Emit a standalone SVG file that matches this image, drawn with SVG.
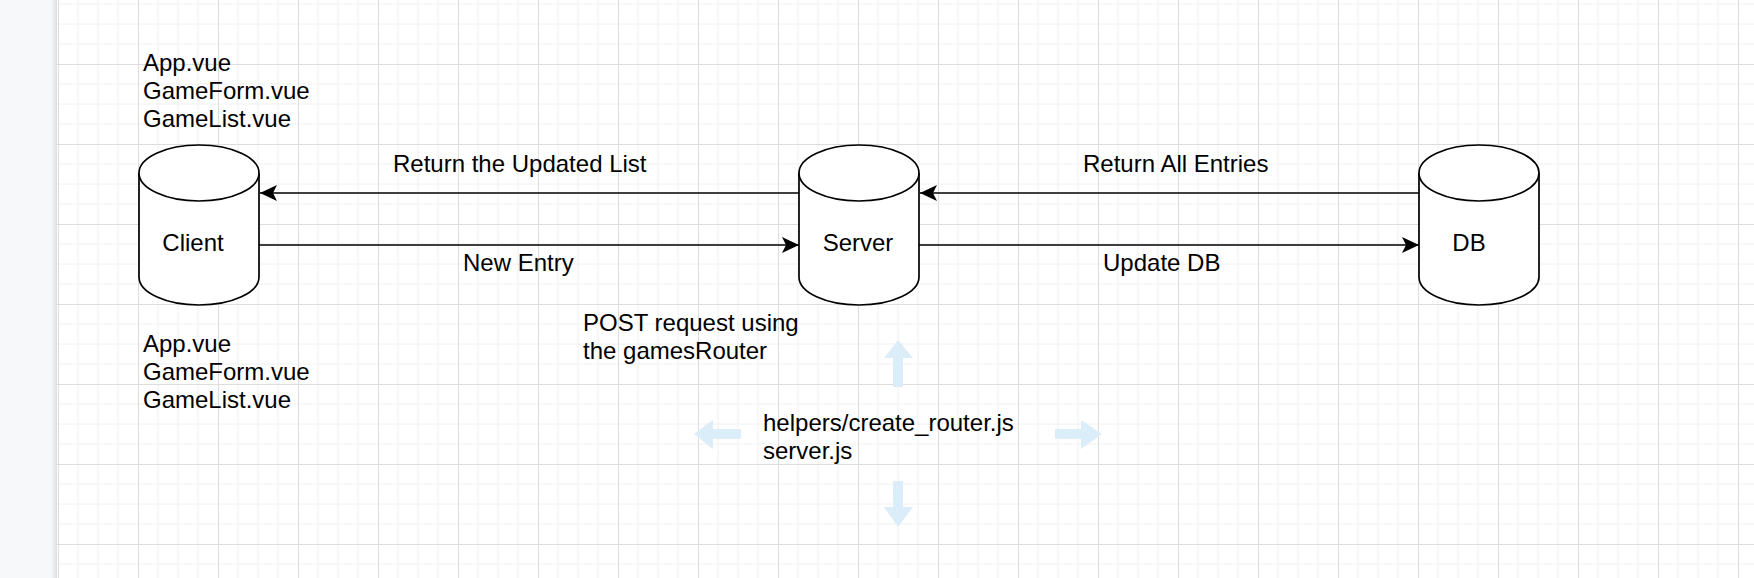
<svg xmlns="http://www.w3.org/2000/svg" width="1754" height="578" viewBox="0 0 1754 578">
  <style>
    .t { font-family: "Liberation Sans", Arial, Helvetica, sans-serif; font-size: 24px; fill: #000; }
    .cyl { fill: #fff; stroke: #000; stroke-width: 1.7; }
    .edge { fill: none; stroke: #000; stroke-width: 1.6; }
    .hint { fill: #dcedfa; }
  </style>
  <defs>
    <pattern id="grid" x="58" y="-16" width="80" height="80" patternUnits="userSpaceOnUse">
      <path d="M20,0 V80 M40,0 V80 M60,0 V80 M0,20 H80 M0,40 H80 M0,60 H80" stroke="#f0f0f0" stroke-width="1" fill="none"/>
      <path d="M0.5,0 V80 M0,0.5 H80" stroke="#dddddd" stroke-width="1" fill="none"/>
    </pattern>
    <linearGradient id="shadow" x1="0" y1="0" x2="1" y2="0">
      <stop offset="0" stop-color="#f7f8fa"/>
      <stop offset="1" stop-color="#dcdde0"/>
    </linearGradient>
    <marker id="arrow" viewBox="0 -9 18 18" refX="17" refY="0" markerWidth="18" markerHeight="18" markerUnits="userSpaceOnUse" orient="auto">
      <path d="M0,-8 L17,0 L0,8 L4,0 Z" fill="#000"/>
    </marker>
  </defs>

  <rect x="0" y="0" width="1754" height="578" fill="#ffffff"/>
  <rect x="57" y="0" width="1697" height="578" fill="url(#grid)"/>
  <rect x="0" y="0" width="51" height="578" fill="#f7f8fa"/>
  <rect x="51" y="0" width="6" height="578" fill="url(#shadow)"/>

  <g id="connectors">
    <line class="edge" x1="799" y1="193" x2="260" y2="193" marker-end="url(#arrow)"/>
    <line class="edge" x1="259" y1="245" x2="799" y2="245" marker-end="url(#arrow)"/>
    <line class="edge" x1="1419" y1="193" x2="920" y2="193" marker-end="url(#arrow)"/>
    <line class="edge" x1="919" y1="245" x2="1419" y2="245" marker-end="url(#arrow)"/>
    <text class="t" x="393" y="172">Return the Updated List</text>
    <text class="t" x="463" y="271">New Entry</text>
    <text class="t" x="1083" y="172">Return All Entries</text>
    <text class="t" x="1103" y="271">Update DB</text>
  </g>

  <g id="client">
    <path class="cyl" d="M139,173 A60,28 0 0,1 259,173 L259,277 A60,28 0 0,1 139,277 Z"/>
    <path class="cyl" d="M139,173 A60,28 0 0,0 259,173" fill="none"/>
    <text class="t" x="193" y="251" text-anchor="middle">Client</text>
  </g>

  <g id="server">
    <path class="cyl" d="M799,173 A60,28 0 0,1 919,173 L919,277 A60,28 0 0,1 799,277 Z"/>
    <path class="cyl" d="M799,173 A60,28 0 0,0 919,173" fill="none"/>
    <text class="t" x="858" y="251" text-anchor="middle">Server</text>
  </g>

  <g id="db">
    <path class="cyl" d="M1419,173 A60,28 0 0,1 1539,173 L1539,277 A60,28 0 0,1 1419,277 Z"/>
    <path class="cyl" d="M1419,173 A60,28 0 0,0 1539,173" fill="none"/>
    <text class="t" x="1469" y="251" text-anchor="middle">DB</text>
  </g>

  <g id="client-files-top">
    <text class="t" x="143" y="71">App.vue</text>
    <text class="t" x="143" y="99">GameForm.vue</text>
    <text class="t" x="143" y="127">GameList.vue</text>
  </g>

  <g id="client-files-bottom">
    <text class="t" x="143" y="352">App.vue</text>
    <text class="t" x="143" y="380">GameForm.vue</text>
    <text class="t" x="143" y="408">GameList.vue</text>
  </g>

  <g id="post-note">
    <text class="t" x="583" y="331">POST request using</text>
    <text class="t" x="583" y="359">the gamesRouter</text>
  </g>

  <g id="server-files">
    <polygon class="hint" points="898,340 913,358 903,358 903,387 893,387 893,358 884,358"/>
    <polygon class="hint" points="893,481 903,481 903,507 913,507 898,527 884,507 893,507"/>
    <polygon class="hint" points="694,434 713,420 713,429 741,429 741,439 713,439 713,449"/>
    <polygon class="hint" points="1055,429 1081,429 1081,420 1102,434 1081,449 1081,439 1055,439"/>
    <text class="t" x="763" y="431">helpers/create_router.js</text>
    <text class="t" x="763" y="459">server.js</text>
  </g>
</svg>
